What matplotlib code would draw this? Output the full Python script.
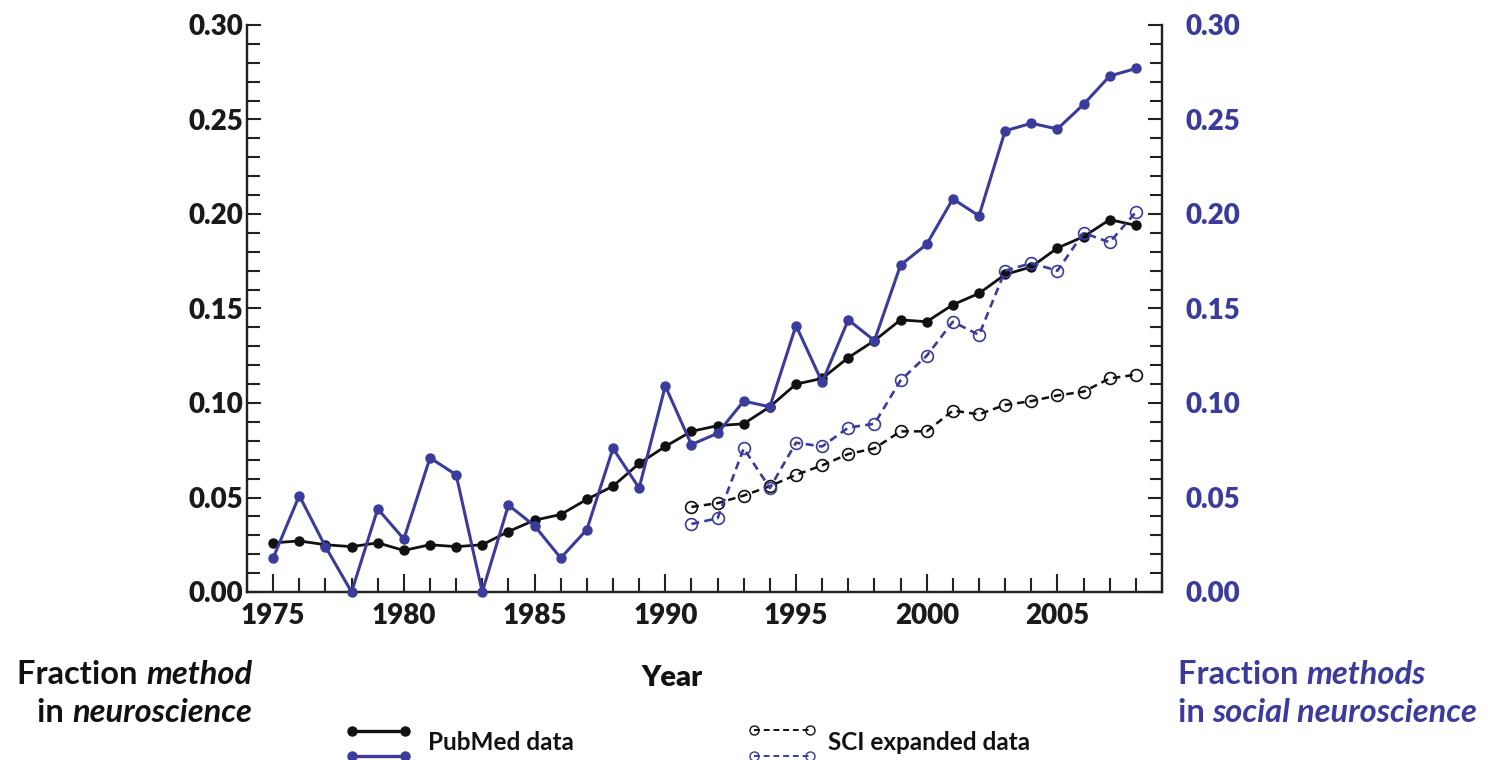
import matplotlib
matplotlib.use("Agg")
import matplotlib.pyplot as plt
from matplotlib.lines import Line2D
from matplotlib.ticker import MultipleLocator, FormatStrFormatter

# ---------------- data ----------------
years = list(range(1975, 2009))
pubmed_neuro = [0.026, 0.027, 0.025, 0.024, 0.026, 0.022, 0.025, 0.024, 0.025, 0.032,
                0.038, 0.041, 0.049, 0.056, 0.068, 0.077, 0.085, 0.088, 0.089, 0.098,
                0.110, 0.113, 0.124, 0.133, 0.144, 0.143, 0.152, 0.158, 0.168, 0.172,
                0.182, 0.188, 0.197, 0.194]
pubmed_social = [0.018, 0.051, 0.024, 0.000, 0.044, 0.028, 0.071, 0.062, 0.000, 0.046,
                 0.035, 0.018, 0.033, 0.076, 0.055, 0.109, 0.078, 0.084, 0.101, 0.098,
                 0.141, 0.111, 0.144, 0.133, 0.173, 0.184, 0.208, 0.199, 0.244, 0.248,
                 0.245, 0.258, 0.273, 0.277]
sci_years = list(range(1991, 2009))
sci_neuro = [0.045, 0.047, 0.051, 0.056, 0.062, 0.067, 0.073, 0.076, 0.085, 0.085,
             0.096, 0.094, 0.099, 0.101, 0.104, 0.106, 0.113, 0.115]
sci_social = [0.036, 0.039, 0.076, 0.055, 0.079, 0.077, 0.087, 0.089, 0.112, 0.125,
              0.143, 0.136, 0.170, 0.174, 0.170, 0.190, 0.185, 0.201]

xlabel = "Year"
left_label = [("Fraction ", "method"), ("in ", "neuroscience")]
right_label = [("Fraction ", "methods"), ("in ", "social neuroscience")]
legend_labels = ["PubMed data", "SCI expanded data"]

BLUE = "#3b3b9c"
BLACK = "#111111"
FONT = "Lato"

plt.rcParams["font.family"] = [FONT, "DejaVu Sans"]

W, H = 1488, 760
fig = plt.figure(figsize=(W / 100, H / 100), dpi=100)
ax = fig.add_axes([247 / W, 1 - 592 / H, (1162 - 247) / W, (592 - 25) / H])
ax2 = ax.twinx()

# ---------------- series ----------------
ax.plot(years, pubmed_neuro, color=BLACK, lw=2.0, marker="o", ms=6.5,
        mfc=BLACK, mec=BLACK, zorder=3, clip_on=False)
ax.plot(sci_years, sci_neuro, color=BLACK, lw=1.8, ls=(0, (3, 2)), marker="o", ms=8.5,
        mfc="none", mec=BLACK, mew=1.2, zorder=3, clip_on=False)
ax2.plot(years, pubmed_social, color=BLUE, lw=2.2, marker="o", ms=6.5,
         mfc=BLUE, mec=BLUE, zorder=4, clip_on=False)
ax2.plot(sci_years, sci_social, color=BLUE, lw=1.9, ls=(0, (3, 2)), marker="o", ms=8.5,
         mfc="none", mec=BLUE, mew=1.2, zorder=4, clip_on=False)

for a in (ax, ax2):
    a.set_xlim(1974, 2009)
    a.set_ylim(0, 0.30)
    a.yaxis.set_major_locator(MultipleLocator(0.05))
    a.yaxis.set_minor_locator(MultipleLocator(0.01))
    a.yaxis.set_major_formatter(FormatStrFormatter("%.2f"))
    a.spines["top"].set_visible(False)
    for s in a.spines.values():
        s.set_linewidth(1.6)
        s.set_color("#222222")

ax.xaxis.set_major_locator(MultipleLocator(5))
ax.xaxis.set_minor_locator(MultipleLocator(1))
ax.set_xticks(range(1975, 2009, 5))

ax.tick_params(axis="y", which="both", direction="in", width=1.5, color="#222222",
               labelsize=20, pad=3, labelcolor="#1a1a1a")
ax.tick_params(axis="y", which="major", length=10)
ax.tick_params(axis="y", which="minor", length=9)
ax.tick_params(axis="x", which="both", direction="in", width=1.5, color="#222222",
               labelsize=20, pad=8, labelcolor="#1a1a1a")
ax.tick_params(axis="x", which="major", length=13)
ax.tick_params(axis="x", which="minor", length=10)

ax2.tick_params(axis="y", which="both", direction="in", width=1.5, color="#222222",
                labelsize=20, pad=17, labelcolor=BLUE)
ax2.tick_params(axis="y", which="major", length=10)
ax2.tick_params(axis="y", which="minor", length=9)

for lab in ax.get_xticklabels() + ax.get_yticklabels() + ax2.get_yticklabels():
    lab.set_fontweight("heavy")

# ---------------- text labels ----------------
fig.text(672 / W, 1 - 678 / H, xlabel, ha="center", va="center",
         fontsize=21, fontweight="heavy", color=BLACK)

fig.canvas.draw()
renderer = fig.canvas.get_renderer()

LBL_FS = 23.5


def two_part(x_px, y_px, parts, color, align):
    plain, ital = parts
    if align == "right":
        t2 = fig.text(x_px / W, 1 - y_px / H, ital, ha="right", va="center",
                      fontsize=LBL_FS, fontweight="bold", style="italic", color=color)
        bb = t2.get_window_extent(renderer)
        fig.text(bb.x0 / W, 1 - y_px / H, plain, ha="right", va="center",
                 fontsize=LBL_FS, fontweight="bold", color=color)
    else:
        t1 = fig.text(x_px / W, 1 - y_px / H, plain, ha="left", va="center",
                      fontsize=LBL_FS, fontweight="bold", color=color)
        bb = t1.get_window_extent(renderer)
        fig.text(bb.x1 / W, 1 - y_px / H, ital, ha="left", va="center",
                 fontsize=LBL_FS, fontweight="bold", style="italic", color=color)


two_part(252, 675, left_label[0], BLACK, "right")
two_part(252, 713, left_label[1], BLACK, "right")
two_part(1178, 675, right_label[0], BLUE, "left")
two_part(1178, 713, right_label[1], BLUE, "left")

# ---------------- legend ----------------
def sample(x0, x1, y, color, dashed):
    if dashed:
        ln = Line2D([x0 / W, x1 / W], [1 - y / H, 1 - y / H], transform=fig.transFigure,
                    color=color, lw=1.4, ls=(0, (3, 2)), marker="o", ms=6.5,
                    mfc="none", mec=color, mew=1.0)
    else:
        ln = Line2D([x0 / W, x1 / W], [1 - y / H, 1 - y / H], transform=fig.transFigure,
                    color=color, lw=2.4, marker="o", ms=6.5, mfc=color, mec=color)
    fig.add_artist(ln)


sample(352, 405, 731, BLACK, False)
sample(352, 405, 756, BLUE, False)
fig.text(428 / W, 1 - 743 / H, legend_labels[0], ha="left", va="center",
         fontsize=17.5, fontweight="bold", color=BLACK)
sample(754, 810, 730, BLACK, True)
sample(754, 810, 756, BLUE, True)
fig.text(828 / W, 1 - 743 / H, legend_labels[1], ha="left", va="center",
         fontsize=17.5, fontweight="bold", color=BLACK)

fig.savefig("out.png", dpi=100)
